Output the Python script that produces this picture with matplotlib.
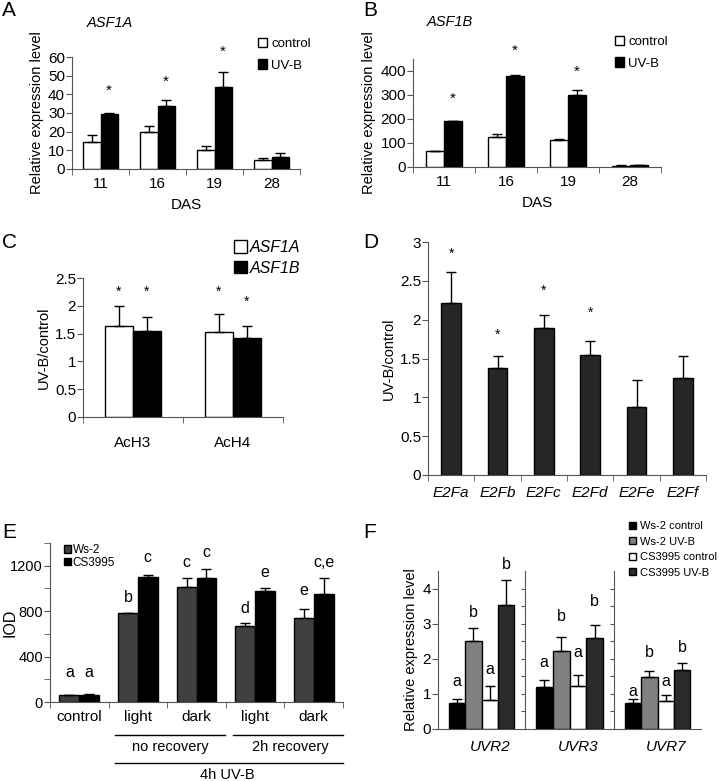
import numpy as np
import matplotlib
matplotlib.use("Agg")
import matplotlib.pyplot as plt
import matplotlib.transforms as mtransforms

plt.rcParams["font.family"] = ["Liberation Sans", "DejaVu Sans"]
plt.rcParams["font.size"] = 10

W, H = 722, 781

# ---- data ----
das = ["11", "16", "19", "28"]
asf1a_ctrl = [14.7, 19.8, 10.0, 5.0]
asf1a_ctrl_err = [3.6, 3.2, 2.5, 1.0]
asf1a_uvb = [29.5, 34.0, 44.0, 6.5]
asf1a_uvb_err = [0.5, 3.0, 8.0, 2.0]
asf1a_stars = [42, 46.5, 63, None]

asf1b_ctrl = [68, 127, 112, 5]
asf1b_ctrl_err = [0, 11, 3, 2]
asf1b_uvb = [190, 378, 298, 7]
asf1b_uvb_err = [3, 5, 24, 1]
asf1b_stars = [283, 483, 396, None]

acetyl = ["AcH3", "AcH4"]
ratio_asf1a = [1.63, 1.53]
ratio_asf1a_err = [0.37, 0.32]
ratio_asf1b = [1.55, 1.42]
ratio_asf1b_err = [0.25, 0.21]
ratio_stars_a = [2.25, 2.25]
ratio_stars_b = [2.25, 2.07]

e2f = ["E2Fa", "E2Fb", "E2Fc", "E2Fd", "E2Fe", "E2Ff"]
e2f_ratio = [2.22, 1.38, 1.89, 1.55, 0.88, 1.25]
e2f_err = [0.39, 0.15, 0.17, 0.18, 0.34, 0.28]
e2f_stars = [2.85, 1.80, 2.37, 2.09, None, None]

iod_groups = ["control", "light", "dark", "light", "dark"]
iod_ws2 = [60, 780, 1015, 665, 740]
iod_ws2_err = [5, 5, 75, 30, 80]
iod_cs = [65, 1100, 1095, 975, 955]
iod_cs_err = [8, 20, 80, 30, 140]
iod_ws2_letters = ["a", "b", "c", "d", "e"]
iod_cs_letters = ["a", "c", "c", "e", "c,e"]
iod_ws2_lpos = [264, 924, 1224, 827, 986]
iod_cs_lpos = [264, 1276, 1312, 1144, 1224]

uvr_genes = ["UVR2", "UVR3", "UVR7"]
uvr_series = ["Ws-2 control", "Ws-2 UV-B", "CS3995 control", "CS3995 UV-B"]
uvr_vals = [[0.75, 2.50, 0.82, 3.53],
            [1.20, 2.22, 1.22, 2.58],
            [0.75, 1.47, 0.80, 1.67]]
uvr_err = [[0.10, 0.38, 0.40, 0.72],
           [0.20, 0.40, 0.33, 0.37],
           [0.11, 0.17, 0.17, 0.21]]
uvr_letters = [["a", "b", "a", "b"]] * 3
uvr_lpos = [[1.34, 3.31, 1.69, 4.69],
            [1.89, 3.20, 2.17, 3.63],
            [1.06, 2.17, 1.34, 2.31]]
uvr_colors = ["#000000", "#808080", "#ffffff", "#2b2b2b"]


def box(l, t, r, b):
    return [l / W, 1 - b / H, (r - l) / W, (b - t) / H]


def style(ax):
    for s in ["top", "right"]:
        ax.spines[s].set_visible(False)
    ax.spines["left"].set_color("#555555")
    ax.spines["bottom"].set_color("#555555")
    ax.tick_params(axis="y", direction="out", length=4, color="#555555", labelsize=11, pad=1)
    ax.tick_params(axis="x", which="major", length=0, labelsize=11, pad=6)
    ax.tick_params(axis="x", which="minor", direction="out", length=4, color="#555555")


def uperr(ax, x, y, e):
    ax.errorbar(x, y, yerr=[np.zeros(len(e)), e], fmt="none", ecolor="k",
                elinewidth=1, capsize=3.5, capthick=1)


def stars(ax, x, ys, size=11):
    for xi, yi in zip(x, ys):
        if yi is not None:
            ax.text(xi, yi, "*", ha="center", va="center", fontsize=size, clip_on=False)


fig = plt.figure(figsize=(W / 100, H / 100), dpi=100)

# ---- A ----
ax = fig.add_axes(box(72, 57, 300, 169))
x = np.arange(len(das))
bw = 0.3
ax.bar(x - bw / 2, asf1a_ctrl, bw, color="white", edgecolor="k", lw=1, label="control")
ax.bar(x + bw / 2, asf1a_uvb, bw, color="black", edgecolor="k", lw=1, label="UV-B")
uperr(ax, x - bw / 2, asf1a_ctrl, asf1a_ctrl_err)
uperr(ax, x + bw / 2, asf1a_uvb, asf1a_uvb_err)
stars(ax, x + bw / 2, asf1a_stars)
ax.set_xlim(-0.5, 3.5)
ax.set_ylim(0, 60)
ax.set_yticks(range(0, 61, 10))
ax.set_xticks(x, das)
ax.set_xticks(np.arange(-0.5, 4, 1), minor=True)
style(ax)
ax.set_ylabel("Relative expression level", fontsize=10.5, labelpad=3)
ax.set_xlabel("DAS", fontsize=11, labelpad=5)
ax.legend(loc="upper left", bbox_to_anchor=(258 / W, 1 - 38 / H), bbox_transform=fig.transFigure,
          frameon=False, fontsize=9.5, handlelength=0.7, handleheight=0.7,
          handletextpad=0.3, labelspacing=0.7, borderpad=0, borderaxespad=0)
fig.text(110 / W, 1 - 23 / H, "ASF1A", style="italic", fontsize=10.5, ha="center", va="center")
fig.text(2 / W, 1 - 10 / H, "A", fontsize=15, va="center")

# ---- B ----
ax = fig.add_axes(box(413, 59, 661, 167))
bw = 0.29
ax.bar(x - bw / 2, asf1b_ctrl, bw, color="white", edgecolor="k", lw=1, label="control")
ax.bar(x + bw / 2, asf1b_uvb, bw, color="black", edgecolor="k", lw=1, label="UV-B")
uperr(ax, x - bw / 2, asf1b_ctrl, asf1b_ctrl_err)
uperr(ax, x + bw / 2, asf1b_uvb, asf1b_uvb_err)
stars(ax, x + bw / 2, asf1b_stars)
ax.set_xlim(-0.5, 3.5)
ax.set_ylim(0, 450)
ax.set_yticks(range(0, 401, 100))
ax.set_xticks(x, das)
ax.set_xticks(np.arange(-0.5, 4, 1), minor=True)
style(ax)
ax.set_ylabel("Relative expression level", fontsize=10.5, labelpad=3)
ax.set_xlabel("DAS", fontsize=11, labelpad=5)
ax.legend(loc="upper left", bbox_to_anchor=(615 / W, 1 - 36 / H), bbox_transform=fig.transFigure,
          frameon=False, fontsize=9.5, handlelength=0.7, handleheight=0.7,
          handletextpad=0.3, labelspacing=0.7, borderpad=0, borderaxespad=0)
fig.text(450 / W, 1 - 22 / H, "ASF1B", style="italic", fontsize=10.5, ha="center", va="center")
fig.text(363 / W, 1 - 10 / H, "B", fontsize=15, va="center")

# ---- C ----
ax = fig.add_axes(box(83, 278, 283, 417))
xc = np.arange(len(acetyl))
bw = 0.28
ax.bar(xc - bw / 2, ratio_asf1a, bw, color="white", edgecolor="k", lw=1, label="ASF1A")
ax.bar(xc + bw / 2, ratio_asf1b, bw, color="black", edgecolor="k", lw=1, label="ASF1B")
uperr(ax, xc - bw / 2, ratio_asf1a, ratio_asf1a_err)
uperr(ax, xc + bw / 2, ratio_asf1b, ratio_asf1b_err)
stars(ax, xc - bw / 2, ratio_stars_a, size=10)
stars(ax, xc + bw / 2, ratio_stars_b, size=10)
ax.set_xlim(-0.5, 1.5)
ax.set_ylim(0, 2.5)
ax.set_yticks([0, 0.5, 1, 1.5, 2, 2.5], ["0", "0.5", "1", "1.5", "2", "2.5"])
ax.set_xticks(xc, acetyl)
ax.set_xticks([-0.5, 0.5, 1.5], minor=True)
style(ax)
ax.tick_params(axis="x", which="major", pad=14)
ax.set_ylabel("UV-B/control", fontsize=10.5, labelpad=3)
leg = ax.legend(loc="upper left", bbox_to_anchor=(234 / W, 1 - 240 / H), bbox_transform=fig.transFigure,
                frameon=False, fontsize=11.5, handlelength=0.8, handleheight=0.8,
                handletextpad=0.2, labelspacing=0.35, borderpad=0, borderaxespad=0)
for t in leg.get_texts():
    t.set_style("italic")
fig.text(2 / W, 1 - 242 / H, "C", fontsize=15, va="center")

# ---- D ----
ax = fig.add_axes(box(428, 242, 706, 475))
xd = np.arange(len(e2f))
ax.bar(xd, e2f_ratio, 0.43, color="#262626", edgecolor="k", lw=1)
uperr(ax, xd, e2f_ratio, e2f_err)
stars(ax, xd, e2f_stars, size=10)
ax.set_xlim(-0.5, 5.5)
ax.set_ylim(0, 3)
ax.set_yticks([0, 0.5, 1, 1.5, 2, 2.5, 3], ["0", "0.5", "1", "1.5", "2", "2.5", "3"])
ax.set_xticks(xd, e2f, style="italic")
ax.set_xticks(np.arange(-0.5, 6, 1), minor=True)
style(ax)
ax.tick_params(axis="x", which="major", pad=8)
ax.set_ylabel("UV-B/control", fontsize=10.5, labelpad=3)
fig.text(363 / W, 1 - 242 / H, "D", fontsize=15, va="center")

# ---- E ----
ax = fig.add_axes(box(50, 543, 343, 702))
xe = np.arange(len(iod_groups))
bw = 0.34
ax.bar(xe - bw / 2, iod_ws2, bw, color="#404040", edgecolor="k", lw=1, label="Ws-2")
ax.bar(xe + bw / 2, iod_cs, bw, color="black", edgecolor="k", lw=1, label="CS3995")
uperr(ax, xe - bw / 2, iod_ws2, iod_ws2_err)
uperr(ax, xe + bw / 2, iod_cs, iod_cs_err)
for xi, lt, yp in zip(xe - bw / 2, iod_ws2_letters, iod_ws2_lpos):
    ax.text(xi, yp, lt, ha="center", va="center", fontsize=11.5)
for xi, lt, yp in zip(xe + bw / 2, iod_cs_letters, iod_cs_lpos):
    ax.text(xi, yp, lt, ha="center", va="center", fontsize=11.5)
ax.set_xlim(-0.5, 4.5)
ax.set_ylim(0, 1400)
ax.set_yticks([0, 400, 800, 1200])
ax.set_yticks([200, 600, 1000, 1400], minor=True)
ax.set_xticks(xe, iod_groups)
ax.set_xticks(np.arange(-0.5, 5, 1), minor=True)
style(ax)
ax.tick_params(axis="y", labelsize=10.5)
ax.tick_params(axis="y", which="minor", direction="out", length=4, color="#555555")
ax.set_ylabel("IOD", fontsize=11.5)
ax.yaxis.set_label_coords((18 - 50) / 293, 0.5)
ax.legend(loc="upper left", bbox_to_anchor=(64 / W, 1 - 544 / H), bbox_transform=fig.transFigure,
          frameon=False, fontsize=8.5, handlelength=0.6, handleheight=0.6,
          handletextpad=0.15, labelspacing=0.05, borderpad=0, borderaxespad=0)
tr = mtransforms.blended_transform_factory(ax.transData, fig.transFigure)
for x0, x1, yp in [(0.61, 2.49, 735), (2.63, 4.5, 735), (0.61, 4.5, 763)]:
    ax.plot([x0, x1], [1 - yp / H] * 2, color="k", lw=1, transform=tr, clip_on=False)
ax.text(1.55, 1 - 747 / H, "no recovery", transform=tr, ha="center", va="center", fontsize=10.5)
ax.text(3.6, 1 - 747 / H, "2h recovery", transform=tr, ha="center", va="center", fontsize=10.5)
ax.text(2.53, 1 - 775 / H, "4h UV-B", transform=tr, ha="center", va="center", fontsize=10.5)
fig.text(2 / W, 1 - 533 / H, "E", fontsize=15, va="center")

# ---- F ----
edges = [438, 525, 614, 701]
handles = []
for g, gene in enumerate(uvr_genes):
    ax = fig.add_axes(box(edges[g], 571, edges[g + 1], 729))
    xf = np.arange(len(uvr_series))
    bars = ax.bar(xf, uvr_vals[g], 1.0, color=uvr_colors, edgecolor="k", lw=1)
    uperr(ax, xf, uvr_vals[g], uvr_err[g])
    for xi, lt, yp in zip(xf, uvr_letters[g], uvr_lpos[g]):
        ax.text(xi, yp, lt, ha="center", va="center", fontsize=11.5)
    ax.set_xlim(-1.14, 4.14)
    ax.set_ylim(0, 4.5)
    ax.set_xticks([2.0], [gene], style="italic")
    style(ax)
    ax.tick_params(axis="x", which="major", pad=8)
    if g == 0:
        ax.set_yticks([0, 1, 2, 3, 4])
        ax.set_ylabel("Relative expression level", fontsize=10.5, labelpad=3)
        handles = bars
    else:
        ax.set_yticks(np.arange(0.5, 4.5, 0.5))
        ax.set_yticklabels([])
        ax.tick_params(axis="y", length=3)
fig.legend(handles, uvr_series, loc="upper left", bbox_to_anchor=(629 / W, 1 - 521 / H),
           frameon=False, fontsize=8, handlelength=0.6, handleheight=0.6,
           handletextpad=0.4, labelspacing=0.5, borderpad=0, borderaxespad=0)
fig.text(363 / W, 1 - 533 / H, "F", fontsize=15, va="center")

fig.savefig("out.png", dpi=100)
